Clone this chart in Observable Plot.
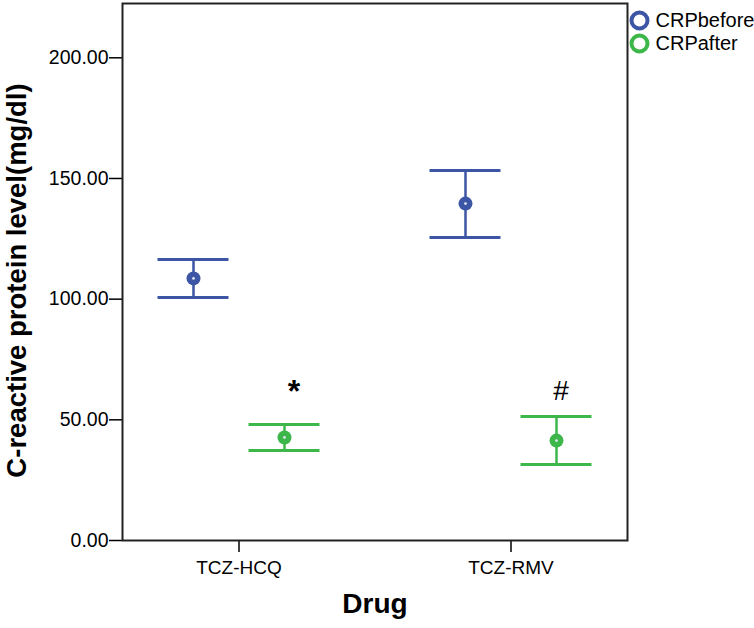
<!DOCTYPE html>
<html>
<head>
<meta charset="utf-8">
<script src="https://cdn.jsdelivr.net/npm/d3@7"></script>
<script src="https://cdn.jsdelivr.net/npm/@observablehq/plot@0.6"></script>
<style>
  body { margin: 0; background: #fff; }
  #chart svg { font-family: Arial, "Liberation Sans", sans-serif; background: #fff; }
</style>
</head>
<body>
<div id="chart"></div>
<script>
const drugs = ["TCZ-HCQ", "TCZ-RMV"];
const seriesNames = ["CRPbefore", "CRPafter"];
const beforeMean = [108.6, 139.6];
const beforeLow = [100.7, 125.5];
const beforeHigh = [116.4, 153.3];
const afterMean = [42.7, 41.4];
const afterLow = [37.3, 31.5];
const afterHigh = [48.1, 51.4];
const sigLabels = ["*", "#"];
const sigY = [61.5, 62];
const yTicks = [0, 50, 100, 150, 200];
const colors = ["#3D55A5", "#3DB64A"];

const before = drugs.map((d, i) => ({drug: d, mean: beforeMean[i], lo: beforeLow[i], hi: beforeHigh[i]}));
const after = drugs.map((d, i) => ({drug: d, mean: afterMean[i], lo: afterLow[i], hi: afterHigh[i]}));
const sig = drugs.map((d, i) => ({drug: d, label: sigLabels[i], y: sigY[i]}));

function errorMarks(rows, color, dx, insetLeft, insetRight) {
  return [
    Plot.ruleX(rows, {x: "drug", y1: "lo", y2: "hi", stroke: color, strokeWidth: 2.5, dx}),
    Plot.tickY(rows, {x: "drug", y: "lo", stroke: color, strokeWidth: 3, insetLeft, insetRight}),
    Plot.tickY(rows, {x: "drug", y: "hi", stroke: color, strokeWidth: 3, insetLeft, insetRight}),
    Plot.dot(rows, {x: "drug", y: "mean", r: 7, fill: color, stroke: "none", dx}),
    Plot.dot(rows, {x: "drug", y: "mean", r: 1.4, fill: "#dfe6f5", stroke: "none", dx})
  ];
}

const chart = Plot.plot({
  width: 754,
  height: 628,
  marginLeft: 122,
  marginRight: 127,
  marginTop: 3,
  marginBottom: 88,
  style: {fontFamily: "Arial, 'Liberation Sans', sans-serif", background: "#fff", color: "#000"},
  x: {type: "band", domain: drugs, paddingInner: 0.15, paddingOuter: 0},
  y: {domain: [0, 222.5]},
  marks: [
    Plot.axisY({ticks: yTicks, tickFormat: d3.format(".2f"), tickSize: 13, tickPadding: 1, fontSize: 19.5, strokeWidth: 1.5, label: null}),
    Plot.axisX({tickSize: 12, tickPadding: 8, fontSize: 19, strokeWidth: 1.5, label: null}),
    Plot.frame({stroke: "#222", strokeWidth: 2}),
    ...errorMarks(before, colors[0], -45.5, 34.5, 125.5),
    ...errorMarks(after, colors[1], 45.5, 125.5, 34.5),
    Plot.text(sig, {filter: d => d.label === "*", x: "drug", y: "y", text: "label", dx: 55, fontSize: 32, fontWeight: "bold", lineAnchor: "middle", fill: "#000"}),
    Plot.text(sig, {filter: d => d.label !== "*", x: "drug", y: "y", text: "label", dx: 50, fontSize: 28, lineAnchor: "middle", fill: "#000"}),
    Plot.text(["C-reactive protein level(mg/dl)"], {frameAnchor: "left", dx: -105.5, dy: 8.5, rotate: -90, textAnchor: "middle", fontSize: 27.5, fontWeight: "bold", lineAnchor: "middle", fill: "#000"}),
    Plot.text(["Drug"], {frameAnchor: "bottom", dy: 64, fontSize: 28, fontWeight: "bold", lineAnchor: "middle", fill: "#000"}),
    Plot.text([seriesNames[0]], {frameAnchor: "top-right", dx: 28, dy: 17, textAnchor: "start", lineAnchor: "middle", fontSize: 20, fill: "#000"}),
    Plot.text([seriesNames[1]], {frameAnchor: "top-right", dx: 28, dy: 40, textAnchor: "start", lineAnchor: "middle", fontSize: 20, fill: "#000"}),
    Plot.dot([seriesNames[0]], {frameAnchor: "top-right", dx: 12, dy: 17, r: 8, stroke: colors[0], strokeWidth: 4, fill: "none"}),
    Plot.dot([seriesNames[1]], {frameAnchor: "top-right", dx: 12, dy: 40, r: 8, stroke: colors[1], strokeWidth: 4, fill: "none"})
  ]
});
document.getElementById("chart").appendChild(chart);
</script>
</body>
</html>
